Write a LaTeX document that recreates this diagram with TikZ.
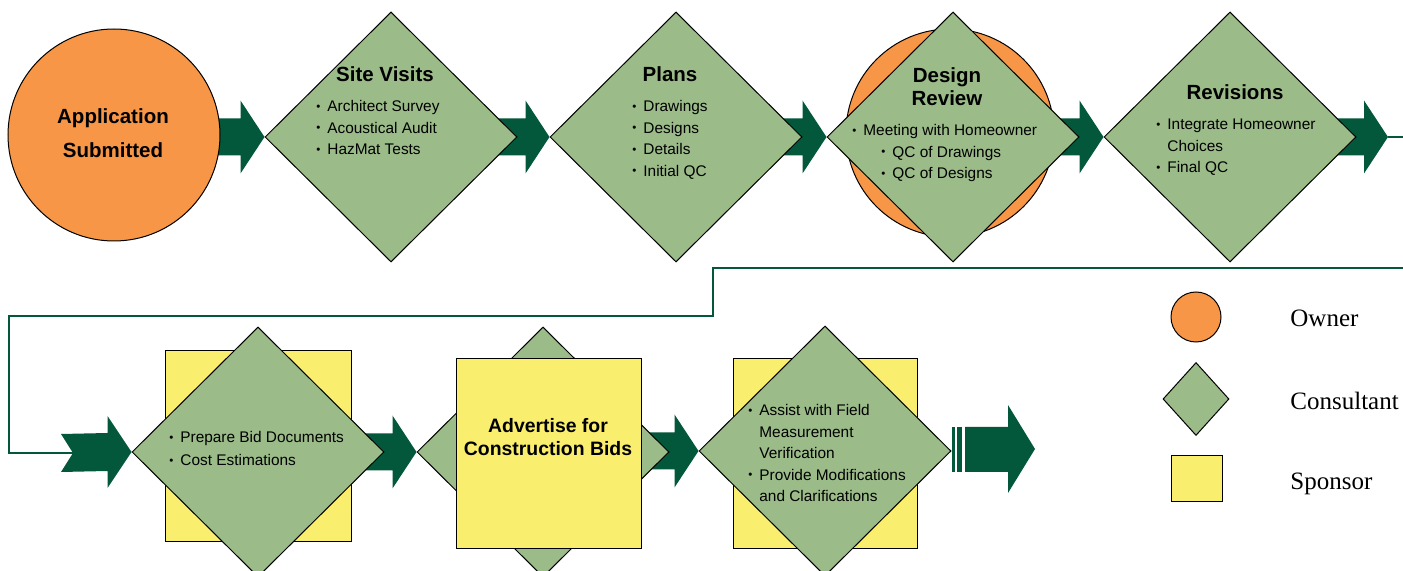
\documentclass[tikz,border=0pt]{standalone}
\usepackage{fontspec}
\usepackage{graphicx}
\setmainfont{Liberation Sans}
\newfontfamily\legendfont{Liberation Serif}
\usetikzlibrary{shapes.geometric,calc}

\definecolor{ownerorange}{HTML}{F79646}
\definecolor{consultgreen}{HTML}{9BBB89}
\definecolor{sponsoryellow}{HTML}{FAEE6E}
\definecolor{flowgreen}{HTML}{03573A}

\pgfdeclarelayer{back}
\pgfsetlayers{back,main}

\tikzset{
  owner/.style={circle, draw=black, line width=0.5pt, fill=ownerorange, inner sep=0pt},
  consultant/.style={diamond, draw=black, line width=0.5pt, fill=consultgreen, inner sep=0pt,
    minimum width=126pt, minimum height=125pt},
  sponsor/.style={rectangle, draw=black, line width=0.5pt, fill=sponsoryellow, inner sep=0pt},
  title/.style={font=\fontsize{10.25}{11.5}\selectfont\bfseries, align=center, inner sep=0pt},
  points/.style={font=\fontsize{7.7}{10.75}\selectfont, align=left, inner sep=0pt, anchor=north west},
  legend/.style={font=\legendfont\fontsize{12.5}{15}\selectfont, anchor=base west, inner sep=0pt},
  route/.style={draw=flowgreen, line width=1pt}
}

% small bullet in front of a point
\newcommand{\bul}{\makebox[5.5pt][l]{\raisebox{0.15ex}{\scalebox{0.75}{\textbullet}}}}
% block arrow: body from #1, tip at #2
\newcommand{\flowarrow}[2]{%
  \fill[flowgreen] ($(#1 |- #2)+(0,-18.5)$) -- ($(#2)+(-24,-18.5)$) -- ($(#2)+(-24,-36.5)$) -- (#2)
    -- ($(#2)+(-24,36.5)$) -- ($(#2)+(-24,18.5)$) -- ($(#1 |- #2)+(0,18.5)$) -- cycle;}

\begin{document}
\begin{tikzpicture}[x=0.5pt,y=-0.5pt]
  \useasboundingbox (0,0) rectangle (1403,571);

  % top row
  \node[owner, minimum size=106pt] (app) at (114,135) {};
  \node[title, font=\fontsize{10.25}{17}\selectfont\bfseries] (apptxt) at (113,133) {Application\\Submitted};

  \node[consultant] (sv) at (391,137) {};
  \node[title, anchor=base] (svt) at (385,82) {Site Visits};
  \node[points] (svp) at (316,100) {\bul Architect Survey\\ \bul Acoustical Audit\\ \bul HazMat Tests};

  \node[consultant] (plans) at (676,137) {};
  \node[title, anchor=base] (planst) at (670,82) {Plans};
  \node[points] (plansp) at (632,100) {\bul Drawings\\ \bul Designs\\ \bul Details\\ \bul Initial QC};

  \node[owner, minimum size=104pt] (drc) at (950,133) {};
  \node[consultant] (dr) at (953,137) {};
  \node[title] (drt) at (947,86.5) {Design\\Review};
  \node[points] (drp) at (852,124) {\bul Meeting with Homeowner\\
    \hspace*{14.5pt}\bul QC of Drawings\\ \hspace*{14.5pt}\bul QC of Designs};

  \node[consultant] (rev) at (1230,137) {};
  \node[title, anchor=base] (revt) at (1235,100) {Revisions};
  \node[points] (revp) at (1156,119) {\bul Integrate Homeowner\\ \hspace*{5.5pt}Choices\\ \bul Final QC};

  \coordinate (out) at (1388,137);
  \coordinate (wrapR) at (1410,137);
  \coordinate (wrapB) at (1410,268);
  \coordinate (tail) at (73,453);

  % bottom row
  \node[sponsor, minimum width=93pt, minimum height=95pt] (bidbox) at (258,446) {};
  \node[consultant] (bid) at (258,452) {};
  \node[points, font=\fontsize{7.7}{11.5}\selectfont] (bidp) at (169,431) {\bul Prepare Bid Documents\\ \bul Cost Estimations};

  \node[consultant] (adv) at (543,452) {};
  \node[sponsor, minimum width=92.5pt, minimum height=94.5pt] (advbox) at (548.5,453.5) {};
  \node[title, font=\fontsize{9.7}{11.5}\selectfont\bfseries] (advt) at (548,437.5) {Advertise for\\Construction Bids};

  \node[sponsor, minimum width=92pt, minimum height=94.5pt] (fieldbox) at (825,453.5) {};
  \node[consultant] (field) at (825,451) {};
  \node[points] (fieldp) at (748,404) {\bul Assist with Field\\ \hspace*{5.5pt}Measurement\\
    \hspace*{5.5pt}Verification\\ \bul Provide Modifications\\ \hspace*{5.5pt}and Clarifications};

  \coordinate (end) at (1035,449);

  % legend
  \node[owner, minimum size=25pt] (lgowner) at (1196,317) {};
  \node[consultant, minimum width=33pt, minimum height=36.5pt] (lgcons) at (1196,399) {};
  \node[sponsor, minimum width=25.5pt, minimum height=23pt] (lgspon) at (1196.5,479) {};
  \node[legend] (lgownert) at (1290,327) {Owner};
  \node[legend] (lgconst) at (1290,410) {Consultant};
  \node[legend] (lgspont) at (1290,489) {Sponsor};

  \begin{pgfonlayer}{back}
    \flowarrow{app.center}{sv.west}
    \flowarrow{sv.center}{plans.west}
    \flowarrow{plans.center}{dr.west}
    \flowarrow{dr.center}{rev.west}
    \flowarrow{rev.center}{out}
    \flowarrow{bid.center}{adv.west}
    \flowarrow{adv.center}{field.west}
  \end{pgfonlayer}

  % wrap-around route
  \draw[route] (out) -- (wrapR);
  \draw[route] (wrapB) -- (713,268) -- (713,316) -- (9,316) |- (tail);

  % notched arrow into the second row
  \fill[flowgreen] (tail) -- ($(tail)+(-12,-19)$) -- ($(bid.west)+(-24,-19)$) -- ($(bid.west)+(-24,-36)$)
    -- (bid.west) -- ($(bid.west)+(-24,36)$) -- ($(bid.west)+(-24,19)$) -- ($(tail)+(-12,19)$) -- cycle;

  % closing arrow
  \fill[flowgreen] (952,427) rectangle (955,472);
  \fill[flowgreen] (957,427) rectangle (962,472);
  \fill[flowgreen] (965,427) -- ($(end)+(-27,-22)$) -- ($(end)+(-27,-44)$) -- (end)
    -- ($(end)+(-27,44)$) -- ($(end)+(-27,23)$) -- (965,472) -- cycle;
\end{tikzpicture}
\end{document}
